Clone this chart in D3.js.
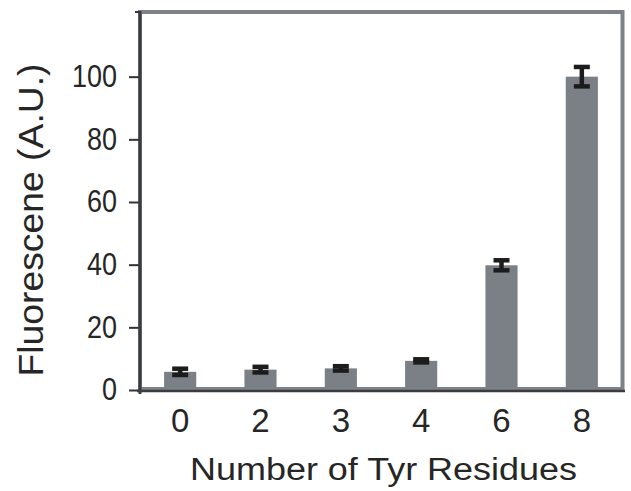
<!DOCTYPE html>
<html>
<head>
<meta charset="utf-8">
<script src="https://cdn.jsdelivr.net/npm/d3@7"></script>
<style>
  body { margin: 0; background: #fff; }
  text { font-family: "Liberation Sans", Arial, sans-serif; fill: #262626; }
</style>
</head>
<body>
<div id="chart"></div>
<script>
// Data
const residues = ["0", "2", "3", "4", "6", "8"];
const fluorescence = [5.8, 6.5, 6.9, 9.3, 39.8, 100];
const errors = [1.0, 0.9, 0.7, 0.5, 1.6, 3.1];
const yTicks = [0, 20, 40, 60, 80, 100];

const W = 631, H = 491;
const plotLeft = 140, plotRight = 622, plotTop = 14, plotBottom = 390;

const svg = d3.select("#chart").append("svg")
    .attr("width", W)
    .attr("height", H);

const x = d3.scaleBand()
    .domain(residues)
    .range([plotLeft, plotRight])
    .paddingInner(0.6)
    .paddingOuter(0.3);

const y = d3.scaleLinear()
    .domain([0, 120])
    .range([plotBottom, plotTop]);

const data = residues.map((r, i) => ({ r, v: fluorescence[i], e: errors[i] }));

// Grey frame
svg.append("rect")
    .attr("x", plotLeft)
    .attr("y", plotTop - 2)
    .attr("width", plotRight - plotLeft + 0.5)
    .attr("height", plotBottom - plotTop + 1)
    .attr("fill", "none")
    .attr("stroke", "#7c8288")
    .attr("stroke-width", 4);

// Bars
svg.selectAll(".bar")
    .data(data)
    .enter()
    .append("rect")
    .attr("class", "bar")
    .attr("x", d => x(d.r))
    .attr("y", d => y(d.v))
    .attr("width", x.bandwidth())
    .attr("height", d => y(0) - y(d.v) - 2)
    .attr("fill", "#7a8086");

// Error bars
const eb = svg.selectAll(".err")
    .data(data)
    .enter()
    .append("g")
    .attr("class", "err")
    .attr("transform", d => `translate(${x(d.r) + x.bandwidth() / 2},0)`);

eb.append("line")
    .attr("y1", d => y(d.v + d.e))
    .attr("y2", d => y(d.v - d.e))
    .attr("stroke", "#1c1c1c")
    .attr("stroke-width", 4.5);

eb.selectAll(".cap")
    .data(d => [d.v + d.e, d.v - d.e])
    .enter()
    .append("line")
    .attr("x1", -8)
    .attr("x2", 8)
    .attr("y1", v => y(v))
    .attr("y2", v => y(v))
    .attr("stroke", "#1c1c1c")
    .attr("stroke-width", 4.5);

// Y axis
const yAxis = svg.append("g")
    .attr("transform", `translate(${plotLeft},0)`)
    .call(d3.axisLeft(y).tickValues(yTicks).tickSize(11).tickPadding(12));

yAxis.select(".domain").remove();
yAxis.selectAll(".tick line")
    .attr("stroke", "#333")
    .attr("stroke-width", 2);
yAxis.selectAll(".tick text")
    .style("font-size", "31px")
    .attr("fill", "#262626")
    .attr("textLength", d => String(d).length * 15)
    .attr("lengthAdjust", "spacingAndGlyphs");

// X axis
const xAxis = svg.append("g")
    .attr("transform", `translate(0,${plotBottom + 1})`)
    .call(d3.axisBottom(x).tickSize(0).tickPadding(18));

xAxis.select(".domain").remove();
xAxis.selectAll(".tick text")
    .style("font-size", "33px")
    .attr("fill", "#262626");

// Dark axis lines
svg.append("line")
    .attr("x1", plotLeft).attr("x2", plotLeft)
    .attr("y1", plotTop - 3).attr("y2", plotBottom + 4)
    .attr("stroke", "#3a3d40")
    .attr("stroke-width", 3);

svg.append("line")
    .attr("x1", plotLeft - 3).attr("x2", plotRight + 3)
    .attr("y1", plotBottom + 1).attr("y2", plotBottom + 1)
    .attr("stroke", "#3a3d40")
    .attr("stroke-width", 2.5);

svg.append("line")
    .attr("x1", plotLeft - 5).attr("x2", plotLeft)
    .attr("y1", plotTop - 2).attr("y2", plotTop - 2)
    .attr("stroke", "#3a3d40")
    .attr("stroke-width", 2);

// Axis titles
svg.append("text")
    .attr("transform", "translate(43,220) rotate(-90)")
    .attr("text-anchor", "middle")
    .style("font-size", "35px")
    .attr("textLength", 313)
    .attr("lengthAdjust", "spacingAndGlyphs")
    .text("Fluorescene (A.U.)");

svg.append("text")
    .attr("x", 383.5)
    .attr("y", 480)
    .attr("text-anchor", "middle")
    .style("font-size", "31px")
    .attr("textLength", 387)
    .attr("lengthAdjust", "spacingAndGlyphs")
    .text("Number of Tyr Residues");
</script>
</body>
</html>
